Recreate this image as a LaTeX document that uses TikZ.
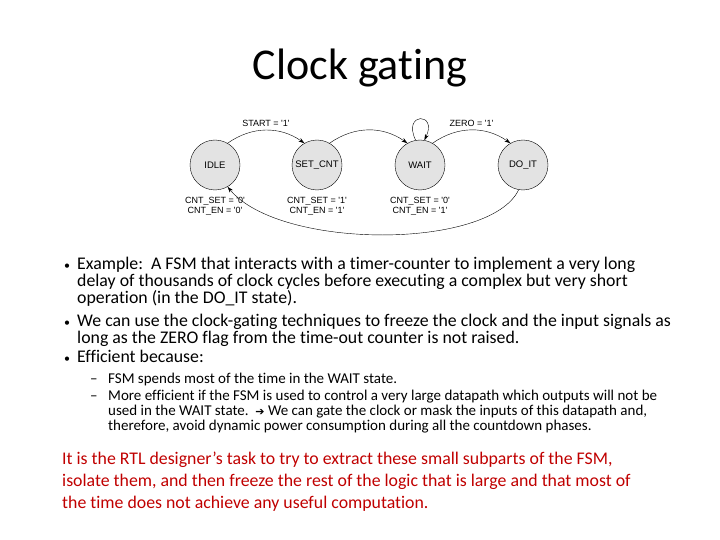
\documentclass[tikz,border=0pt]{standalone}
\usepackage{fontspec}
\setmainfont{Carlito}[RawFeature={-liga;-dlig;-clig}]
\newfontfamily\fsmfont{Liberation Sans}
\usetikzlibrary{arrows.meta}
\definecolor{redtxt}{RGB}{192,0,0}
\begin{document}
\begin{tikzpicture}[x=1pt,y=-1pt,
  st/.style={circle,draw,fill=gray!22,minimum size=50pt,inner sep=0pt,font=\fsmfont\fontsize{9.5}{9.5}\selectfont},
  lbl/.style={font=\fsmfont\fontsize{9}{10}\selectfont,align=center},
  tr/.style={-{Stealth[length=6pt,width=4pt]},thin},
  body/.style={anchor=base west,inner sep=0pt,font=\fontsize{17.8}{19}\selectfont},
  bul/.style={anchor=base west,inner sep=0pt,font=\fontsize{12}{14}\selectfont},
  sub/.style={anchor=base west,inner sep=0pt,font=\fontsize{15}{16}\selectfont},
  red/.style={anchor=base west,inner sep=0pt,text=redtxt,font=\fontsize{17.8}{19}\selectfont}]
\useasboundingbox (0,0) rectangle (720,540);
\node[font=\fontsize{44}{48}\selectfont] (title) at (360,68) {Clock gating};
\node[st] (idle) at (215,165) {IDLE};
\node[st] (set) at (317,165) {SET\_CNT};
\node[st] (wait) at (420,165) {WAIT};
\node[st] (doit) at (523,165) {DO\_IT};
\draw[tr] (idle.60) to[bend left=35] node[lbl,above] {START = '1'} (set.120);
\draw[tr] (set.60) to[bend left=35] (wait.120);
\draw[tr] (wait.60) to[bend left=35] node[lbl,above] {ZERO = '1'} (doit.120);
\draw[tr] (wait.100) .. controls (402,112) and (438,112) .. (wait.80);
\draw[tr] (doit.260) .. controls (490,250) and (280,250) .. (idle.300);
\node[lbl] (l1) at (215,206) {CNT\_SET = '0'\\CNT\_EN = '0'};
\node[lbl] (l2) at (317,206) {CNT\_SET = '1'\\CNT\_EN = '1'};
\node[lbl] (l3) at (420,206) {CNT\_SET = '0'\\CNT\_EN = '1'};
\node[bul] (b1) at (64,269) {•};
\node[bul] (b2) at (64,326) {•};
\node[bul] (b3) at (64,362) {•};
\node[body] (t1) at (77,269) {Example:\ \ A FSM that interacts with a timer-counter to implement a very long};
\node[body] (t2) at (77,286) {delay of thousands of clock cycles before executing a complex but very short};
\node[body] (t3) at (77,303) {operation (in the DO\_IT state).};
\node[body] (t4) at (77,326) {We can use the clock-gating techniques to freeze the clock and the input signals as};
\node[body] (t5) at (77,343) {long as the ZERO flag from the time-out counter is not raised.};
\node[body] (t6) at (77,362) {Efficient because:};
\node[sub] (d1) at (90,383) {–};
\node[sub] (d2) at (90,400) {–};
\node[sub] (s1) at (108,383) {FSM spends most of the time in the WAIT state.};
\node[sub] (s2) at (108,400) {More efficient if the FSM is used to control a very large datapath which outputs will not be};
\node[sub] (s3) at (108,415) {used in the WAIT state.\ \ {\fontspec{DejaVu Sans}\fontsize{11}{12}\selectfont\textbf{➔}} We can gate the clock or mask the inputs of this datapath and,};
\node[sub] (s4) at (108,430) {therefore, avoid dynamic power consumption during all the countdown phases.};
\node[red] (r1) at (62,464) {It is the RTL designer’s task to try to extract these small subparts of the FSM,};
\node[red] (r2) at (62,486) {isolate them, and then freeze the rest of the logic that is large and that most of};
\node[red] (r3) at (62,508) {the time does not achieve any useful computation.};
\end{tikzpicture}
\end{document}
